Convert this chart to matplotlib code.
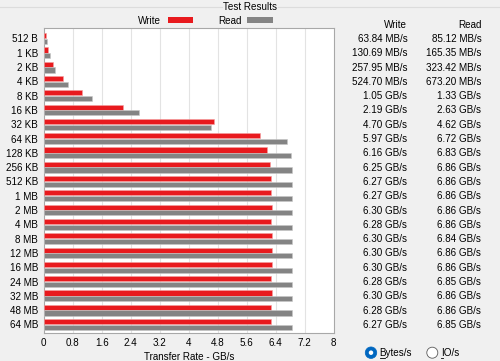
import matplotlib
matplotlib.use("Agg")
import matplotlib.pyplot as plt
from matplotlib.patches import Ellipse, Rectangle
from matplotlib.lines import Line2D
import numpy as np

sizes = ['512 B', '1 KB', '2 KB', '4 KB', '8 KB', '16 KB', '32 KB', '64 KB',
         '128 KB', '256 KB', '512 KB', '1 MB', '2 MB', '4 MB', '8 MB', '12 MB',
         '16 MB', '24 MB', '32 MB', '48 MB', '64 MB']
write_gbs = [0.06384, 0.13069, 0.25795, 0.52470, 1.05, 2.19, 4.70, 5.97, 6.16, 6.25,
             6.27, 6.27, 6.30, 6.28, 6.30, 6.30, 6.30, 6.28, 6.30, 6.28, 6.27]
read_gbs = [0.08512, 0.16535, 0.32342, 0.67320, 1.33, 2.63, 4.62, 6.72, 6.83, 6.86,
            6.86, 6.86, 6.86, 6.86, 6.84, 6.86, 6.86, 6.85, 6.86, 6.86, 6.85]
xticks = [0, 0.8, 1.6, 2.4, 3.2, 4, 4.8, 5.6, 6.4, 7.2, 8]
xtick_labels = ['0', '0.8', '1.6', '2.4', '3.2', '4', '4.8', '5.6', '6.4', '7.2', '8']

W, H = 500, 361
plt.rcParams['font.family'] = ['Liberation Sans', 'DejaVu Sans']
FS = 7.1
BG = '#f0f0f0'
RED = '#e81a1e'
GRAY = '#848484'

fig = plt.figure(figsize=(W / 100, H / 100), dpi=100, facecolor=BG)


def fx(x):
    return x / W


def fy(y):
    return 1 - y / H


ax = fig.add_axes([fx(43.7), fy(333.3), fx(333.7) - fx(43.7), fy(27.7) - fy(333.3)])
ax.set_facecolor('white')
y = np.arange(len(sizes))
ax.barh(y - 0.2, write_gbs, height=0.36, color=RED, edgecolor='#f3a0a0', linewidth=0.4, zorder=3)
ax.barh(y + 0.2, read_gbs, height=0.36, color=GRAY, edgecolor='#c8c8c8', linewidth=0.4, zorder=3)
ax.set_xlim(0, 8)
ax.set_ylim(20.62, -0.755)
ax.set_xticks(xticks)
ax.set_xticklabels(xtick_labels, fontsize=FS)
ax.set_yticks(y)
ax.set_yticklabels(sizes, fontsize=FS)
ax.tick_params(axis='both', length=0, pad=3.5)
ax.tick_params(axis='y', pad=4)
for v in xticks[1:-1]:
    ax.axvline(v, color='#e3e3e3', linewidth=0.8, zorder=1)
for s in ax.spines.values():
    s.set_color('#a8a8a8')
    s.set_linewidth(0.8)
ax.set_xlabel('Transfer Rate - GB/s', fontsize=FS, labelpad=2.5)

# group box line and title
fig.add_artist(Line2D([0, fx(221.5)], [fy(6.8), fy(6.8)], color='#dcdcdc', lw=0.8))
fig.add_artist(Line2D([fx(278), 1], [fy(6.8), fy(6.8)], color='#dcdcdc', lw=0.8))
fig.text(fx(250), fy(7), 'Test Results', ha='center', va='center', fontsize=FS)

# legend
fig.text(fx(149.3), fy(20.5), 'Write', ha='center', va='center', fontsize=FS)
fig.add_artist(Rectangle((fx(167.7), fy(22.7)), fx(193.3) - fx(167.7), fy(17.3) - fy(22.7),
                         transform=fig.transFigure, color=RED, lw=0))
fig.text(fx(230), fy(20.5), 'Read', ha='center', va='center', fontsize=FS)
fig.add_artist(Rectangle((fx(247.3), fy(22.7)), fx(273.3) - fx(247.3), fy(17.3) - fy(22.7),
                         transform=fig.transFigure, color=GRAY, lw=0))


def fmt(v):
    if v < 1:
        return f"{v * 1000:.2f} MB/s"
    return f"{v:.2f} GB/s"


# value table
fig.text(fx(407.3), fy(25), 'Write', ha='right', va='center', fontsize=FS)
fig.text(fx(481.3), fy(25), 'Read', ha='right', va='center', fontsize=FS)
for i in range(len(sizes)):
    yy = fig.transFigure.inverted().transform(ax.transData.transform((0, i)))[1]
    fig.text(fx(407.3), yy - 0.5 / H, fmt(write_gbs[i]), ha='right', va='center', fontsize=FS)
    fig.text(fx(481.3), yy - 0.5 / H, fmt(read_gbs[i]), ha='right', va='center', fontsize=FS)

# radio buttons
fig.add_artist(Ellipse((fx(371), fy(352.7)), 11.5 / W, 11.5 / H, transform=fig.transFigure,
                       facecolor='#0067c0', edgecolor='#0067c0', lw=0.5))
fig.add_artist(Ellipse((fx(371), fy(352.7)), 4.5 / W, 4.5 / H, transform=fig.transFigure,
                       facecolor='white', edgecolor='none'))
fig.text(fx(379.3), fy(352.5), 'Bytes/s', ha='left', va='center', fontsize=FS)
fig.add_artist(Line2D([fx(379.5), fx(385)], [fy(357.6), fy(357.6)], color='black', lw=0.6))
fig.add_artist(Ellipse((fx(432.3), fy(352.7)), 11 / W, 11 / H, transform=fig.transFigure,
                       facecolor='white', edgecolor='#5a5a5a', lw=0.6))
fig.text(fx(440.7), fy(352.5), 'IO/s', ha='left', va='center', fontsize=FS)
fig.add_artist(Line2D([fx(441), fx(442.5)], [fy(357.6), fy(357.6)], color='black', lw=0.6))

fig.savefig('out.png', dpi=100, facecolor=BG)
